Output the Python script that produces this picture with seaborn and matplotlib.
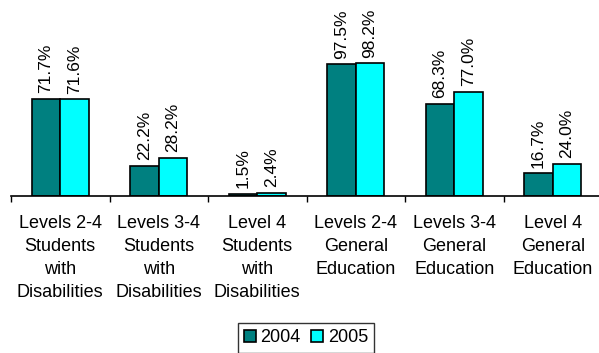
import pandas as pd
import matplotlib.pyplot as plt
import seaborn as sns

categories = [
    "Levels 2-4\nStudents\nwith\nDisabilities",
    "Levels 3-4\nStudents\nwith\nDisabilities",
    "Level 4\nStudents\nwith\nDisabilities",
    "Levels 2-4\nGeneral\nEducation",
    "Levels 3-4\nGeneral\nEducation",
    "Level 4\nGeneral\nEducation",
]
years = ["2004", "2005"]
vals_2004 = [71.7, 22.2, 1.5, 97.5, 68.3, 16.7]
vals_2005 = [71.6, 28.2, 2.4, 98.2, 77.0, 24.0]

df = pd.DataFrame({
    "category": categories * 2,
    "year": [years[0]] * len(categories) + [years[1]] * len(categories),
    "value": vals_2004 + vals_2005,
})

sns.set_style("white")
plt.rcParams['font.family'] = ['Liberation Sans', 'DejaVu Sans']
plt.rcParams['text.color'] = 'black'
plt.rcParams['xtick.color'] = 'black'

fig = plt.figure(figsize=(5.99, 3.53), dpi=100)
ax = fig.add_axes([11 / 599, 157 / 353, 591 / 599, 186 / 353])

sns.barplot(data=df, x="category", y="value", hue="year",
            palette=["#008080", "#00FFFF"], width=0.58,
            edgecolor="black", linewidth=1.2, saturation=1, ax=ax)

for cont in ax.containers:
    ax.bar_label(cont, labels=[f"{v:.1f}%" for v in cont.datavalues],
                 rotation=90, padding=4, fontsize=12.5, color="black")

ax.set_xlim(-0.5, 5.5)
ax.set_ylim(0, 137.5)
ax.set_xlabel("")
ax.set_ylabel("")
ax.set_yticks([])

# ticks at category boundaries, labels at centres
ax.set_xticks([i - 0.5 for i in range(len(categories) + 1)])
ax.set_xticklabels([])
ax.set_xticks(range(len(categories)), minor=True)
ax.set_xticklabels(categories, minor=True, fontsize=13, linespacing=1.45,
                   color="black")
ax.tick_params(axis="x", which="major", direction="out", length=4,
               width=1, color="black", bottom=True)
ax.tick_params(axis="x", which="minor", length=0, pad=14)

for s in ["top", "right", "left"]:
    ax.spines[s].set_visible(False)
ax.spines["bottom"].set_color("black")
ax.spines["bottom"].set_linewidth(1.2)

leg = ax.legend(loc="upper center", bbox_to_anchor=(306 / 599, 30 / 353),
                bbox_transform=fig.transFigure, ncol=2, fontsize=13,
                frameon=True, fancybox=False, handlelength=0.65,
                handleheight=0.65, handletextpad=0.25, columnspacing=0.6,
                borderpad=0.35, borderaxespad=0, title=None)
leg.get_frame().set_edgecolor("black")
leg.get_frame().set_linewidth(1)

fig.savefig("out.png", dpi=100)
